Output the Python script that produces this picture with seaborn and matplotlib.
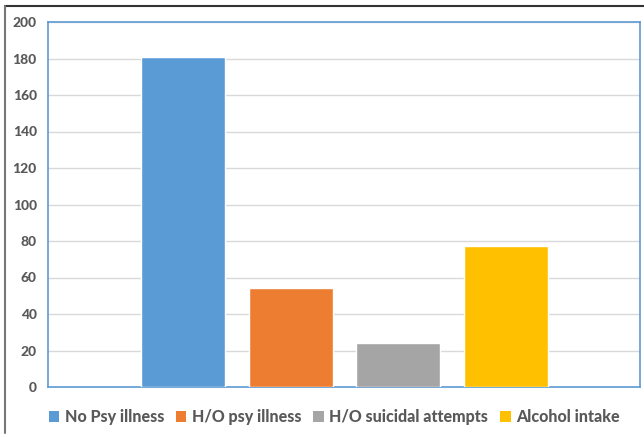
import matplotlib
matplotlib.use("Agg")
import matplotlib.pyplot as plt
from matplotlib.patches import Patch
from matplotlib.lines import Line2D
import seaborn as sns
import pandas as pd

groups = ["No Psy illness", "H/O psy illness", "H/O suicidal attempts", "Alcohol intake"]
counts = [181, 54, 24, 77]
colors = ["#5B9BD5", "#ED7D31", "#A5A5A5", "#FFC000"]
y_ticks = [0, 20, 40, 60, 80, 100, 120, 140, 160, 180, 200]

sns.set_theme(style="white")
plt.rcParams["font.family"] = ["Lato", "DejaVu Sans"]

df = pd.DataFrame({"group": groups, "count": counts})

fig = plt.figure(figsize=(6.44, 4.37), dpi=100)
ax = fig.add_axes([48 / 644, 1 - 387 / 437, 592 / 644, 365 / 437])

sns.barplot(data=df, x="group", y="count", hue="group", palette=colors,
            width=0.78, saturation=1, legend=False, ax=ax, zorder=3)

ax.set_xlim(-1.26, 3 + 1.25)
ax.set_ylim(0, 200)
ax.set_yticks(y_ticks)
ax.set_yticklabels([str(v) for v in y_ticks], fontsize=10,
                   fontweight="black", color="#595959")
ax.set_xticks([])
ax.set_xlabel("")
ax.set_ylabel("")
ax.tick_params(axis="y", length=0, pad=8)
ax.yaxis.grid(True, color="#D9D9D9", linewidth=1)
ax.set_axisbelow(True)
for s in ax.spines.values():
    s.set_visible(True)
    s.set_color("#5B9BD5")
    s.set_linewidth(1.2)

handles = [Patch(facecolor=c, edgecolor="none") for c in colors]
fig.legend(handles, groups, loc="center", bbox_to_anchor=(0.519, 1 - 417 / 437),
           ncol=4, frameon=False, handlelength=0.65, handleheight=0.65,
           handletextpad=0.35, columnspacing=0.75,
           prop={"size": 11.5, "weight": "black"}, labelcolor="#595959")

# outer frame lines along the top and left edges
fig.add_artist(Line2D([5 / 644, 1], [1 - 6 / 437, 1 - 6 / 437],
                      transform=fig.transFigure, color="#333333", linewidth=1.5))
fig.add_artist(Line2D([5 / 644, 5 / 644], [1 - 6 / 437, 1 - 433 / 437],
                      transform=fig.transFigure, color="#777777", linewidth=1.5))

fig.savefig("out.png", dpi=100, facecolor="white")
